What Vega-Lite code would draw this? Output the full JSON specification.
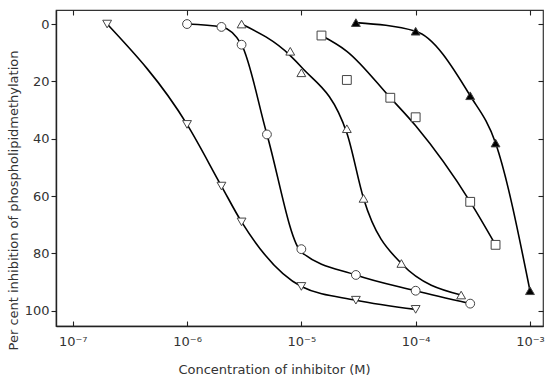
{
  "$schema": "https://vega.github.io/schema/vega-lite/v6.json",
  "width": 487,
  "height": 316,
  "autosize": "none",
  "padding": {"left": 56, "top": 10, "right": 3, "bottom": 53},
  "background": "white",
  "config": {
    "view": {"stroke": "#333", "strokeWidth": 1.2},
    "font": "DejaVu Sans",
    "axis": {"domainColor": "#222", "domainWidth": 1.4, "tickColor": "#222", "tickWidth": 1.1, "labelColor": "#333", "titleColor": "#333", "labelFontSize": 13, "titleFontSize": 13, "titleFontWeight": "normal", "grid": false}
  },
  "data": {
    "values": [
      {"series": "A", "conc": 2e-7, "inhib": 0, "fit": 0},
      {"series": "A", "conc": 1e-6, "inhib": 35, "fit": 35},
      {"series": "A", "conc": 2e-6, "inhib": 56.5, "fit": 56.5},
      {"series": "A", "conc": 3e-6, "inhib": 69, "fit": 69},
      {"series": "A", "conc": 1e-5, "inhib": 91.5, "fit": 91.5},
      {"series": "A", "conc": 3e-5, "inhib": 96.3, "fit": 96.3},
      {"series": "A", "conc": 1e-4, "inhib": 99.5, "fit": 99.5},
      {"series": "B", "conc": 1e-6, "inhib": 0, "fit": 0},
      {"series": "B", "conc": 2e-6, "inhib": 1, "fit": 1},
      {"series": "B", "conc": 3e-6, "inhib": 7.2, "fit": 7.2},
      {"series": "B", "conc": 5e-6, "inhib": 38.5, "fit": 38.5},
      {"series": "B", "conc": 1e-5, "inhib": 78.5, "fit": 79.5},
      {"series": "B", "conc": 3e-5, "inhib": 87.5, "fit": 87.5},
      {"series": "B", "conc": 1e-4, "inhib": 93, "fit": 93},
      {"series": "B", "conc": 3e-4, "inhib": 97.5, "fit": 97.5},
      {"series": "C", "conc": 3e-6, "inhib": 0, "fit": 0},
      {"series": "C", "conc": 8e-6, "inhib": 9.5, "fit": 11},
      {"series": "C", "conc": 1e-5, "inhib": 17, "fit": 15},
      {"series": "C", "conc": 2.5e-5, "inhib": 36.5, "fit": 38},
      {"series": "C", "conc": 3.5e-5, "inhib": 60.8, "fit": 60.8},
      {"series": "C", "conc": 7.5e-5, "inhib": 83.5, "fit": 83.5},
      {"series": "C", "conc": 2.5e-4, "inhib": 94.5, "fit": 94.5},
      {"series": "D", "conc": 1.5e-5, "inhib": 4, "fit": 4},
      {"series": "D", "conc": 2.5e-5, "inhib": 19.5, "fit": 9.5},
      {"series": "D", "conc": 6e-5, "inhib": 25.7, "fit": 25.7},
      {"series": "D", "conc": 1e-4, "inhib": 32.5, "fit": 35.5},
      {"series": "D", "conc": 3e-4, "inhib": 62, "fit": 62},
      {"series": "D", "conc": 5e-4, "inhib": 77, "fit": 77},
      {"series": "E", "conc": 3e-5, "inhib": -0.5, "fit": -0.5},
      {"series": "E", "conc": 1e-4, "inhib": 2.5, "fit": 2.5},
      {"series": "E", "conc": 3e-4, "inhib": 25, "fit": 25},
      {"series": "E", "conc": 5e-4, "inhib": 41.5, "fit": 41.5},
      {"series": "E", "conc": 1e-3, "inhib": 93, "fit": 93}
    ]
  },
  "resolve": {"axis": {"x": "independent", "y": "independent"}},
  "layer": [
    {
      "mark": {"type": "line", "interpolate": "monotone", "color": "black", "strokeWidth": 1.6},
      "encoding": {
        "x": {"field": "conc", "type": "quantitative", "scale": {"type": "log", "domain": [7.14e-8, 1.3e-3], "nice": false},
              "axis": {"orient": "bottom", "values": [1e-7, 1e-6, 1e-5, 1e-4, 1e-3], "tickSize": -5, "labelPadding": 14, "labelFlush": false,
                       "labelExpr": "datum.value < 5e-7 ? '10⁻⁷' : datum.value < 5e-6 ? '10⁻⁶' : datum.value < 5e-5 ? '10⁻⁵' : datum.value < 5e-4 ? '10⁻⁴' : '10⁻³'",
                       "title": "Concentration of inhibitor (M)", "titleX": 218, "titleY": 43, "titleBaseline": "middle"}},
        "y": {"field": "fit", "type": "quantitative", "scale": {"domain": [-4.9, 105.3], "reverse": true, "nice": false, "zero": false},
              "axis": {"orient": "left", "values": [0, 20, 40, 60, 80, 100], "tickSize": 5, "labelPadding": 2,
                       "title": "Per cent inhibition of phospholipidmethylation", "titleX": -43, "titleY": 190, "titleBaseline": "middle"}},
        "detail": {"field": "series"},
        "order": {"field": "conc", "type": "quantitative"}
      }
    },
    {
      "mark": {"type": "point", "filled": true, "size": 78, "stroke": "#444", "strokeWidth": 1, "opacity": 1},
      "encoding": {
        "x": {"field": "conc", "type": "quantitative",
              "axis": {"orient": "top", "values": [1e-7, 1e-6, 1e-5, 1e-4, 1e-3], "tickSize": -5, "labels": false, "domain": false, "title": null}},
        "y": {"field": "inhib", "type": "quantitative",
              "axis": {"orient": "right", "values": [0, 20, 40, 60, 80, 100], "tickSize": -5, "labels": false, "domain": false, "title": null}},
        "shape": {"field": "series", "type": "nominal", "legend": null,
                  "scale": {"domain": ["A", "B", "C", "D", "E"], "range": ["triangle-down", "circle", "triangle-up", "square", "triangle-up"]}},
        "fill": {"field": "series", "type": "nominal", "legend": null,
                 "scale": {"domain": ["A", "B", "C", "D", "E"], "range": ["white", "white", "white", "white", "black"]}}
      }
    }
  ]
}
